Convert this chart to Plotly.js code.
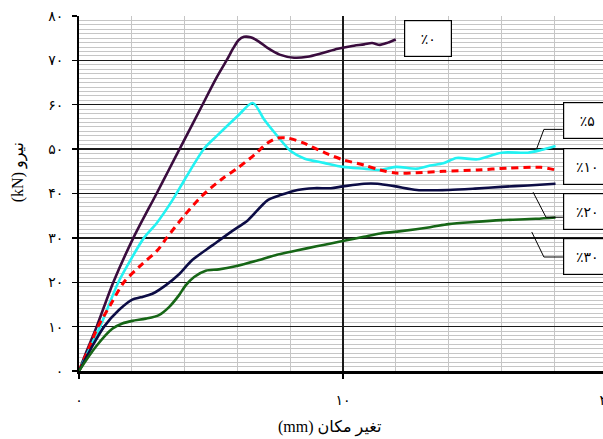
<!DOCTYPE html>
<html>
<head>
<meta charset="utf-8">
<script src="https://cdn.plot.ly/plotly-3.0.1.min.js"></script>
<style>
html,body{margin:0;padding:0;background:#fff;overflow:hidden;width:603px;height:439px;}
#chart{width:620px;height:439px;}
</style>
</head>
<body>
<div id="chart"></div>
<script>
// ---- data (displacement mm, force kN) ----
const seriesNames = ['٪۰', '٪۵', '٪۱۰', '٪۲۰', '٪۳۰'];

const x0 = [0, 0.3, 0.67, 1.3, 2.06, 2.94, 3.4, 4.0, 4.6, 5.2, 5.6, 5.85, 6.05, 6.25, 6.5, 6.8, 7.14, 7.6, 8.15, 8.65, 9.2, 9.8, 10.3, 10.8, 11.1, 11.4, 11.7, 12.0];
const y0 = [0, 4.6, 10, 20, 30, 40, 45.3, 52.2, 59.1, 66.0, 70.1, 72.8, 74.6, 75.3, 75.2, 74.3, 72.8, 71.3, 70.6, 70.8, 71.6, 72.6, 73.2, 73.6, 73.9, 73.5, 74.0, 74.7];

const x5 = [0, 0.4, 0.8, 1.49, 2.0, 2.46, 2.94, 3.54, 4.0, 4.75, 5.26, 6.0, 6.58, 7.02, 7.52, 8.03, 8.53, 9.28, 10.0, 10.8, 11.4, 12.0, 12.8, 13.3, 13.8, 14.3, 15.1, 16.0, 17.0, 17.5, 18.05];
const y5 = [0, 5.0, 10.0, 20.0, 25.5, 30.0, 33.3, 38.5, 43.1, 50.2, 53.2, 57.4, 60.4, 56.6, 52.9, 49.5, 47.9, 46.9, 46.0, 45.6, 45.3, 46.0, 45.6, 46.3, 46.8, 48.0, 47.7, 49.2, 49.2, 49.8, 50.7];

const x10 = [0, 0.35, 0.72, 1.2, 1.7, 2.34, 2.97, 3.32, 4.0, 4.63, 5.38, 6.0, 6.64, 7.14, 7.52, 7.9, 8.5, 9.3, 10.0, 10.8, 11.4, 12.0, 12.8, 13.8, 15.1, 16.2, 17.5, 18.05];
const y10 = [0, 4.8, 10.0, 15.0, 20.0, 23.8, 27.2, 30.0, 35.1, 39.3, 43.1, 45.7, 48.7, 51.4, 52.5, 52.5, 51.4, 49.2, 47.6, 46.4, 45.3, 44.6, 44.7, 45.0, 45.3, 45.7, 45.9, 45.3];

const x20 = [0, 0.45, 0.95, 1.52, 2.02, 2.34, 2.78, 3.28, 3.79, 4.29, 5.05, 5.77, 6.4, 7.15, 7.66, 8.28, 8.9, 9.54, 10.0, 10.8, 11.3, 12.0, 12.8, 14.0, 15.0, 16.0, 17.0, 18.05];
const y20 = [0, 5.0, 10.0, 13.8, 16.1, 16.6, 17.4, 19.3, 21.8, 25.0, 28.3, 31.4, 34.0, 38.5, 39.7, 40.8, 41.2, 41.2, 41.6, 42.2, 42.2, 41.6, 40.8, 40.8, 41.1, 41.5, 41.8, 42.2];

const x30 = [0, 0.63, 1.26, 1.64, 2.02, 2.53, 3.03, 3.41, 3.79, 4.04, 4.36, 4.8, 5.3, 5.93, 6.82, 7.5, 8.28, 9.0, 9.54, 10.04, 10.79, 11.42, 12.05, 13.3, 14.0, 15.0, 16.0, 17.3, 18.05];
const y30 = [0, 5.4, 9.5, 10.7, 11.3, 11.8, 12.6, 14.4, 17.1, 19.3, 21.2, 22.6, 22.9, 23.6, 25.0, 26.2, 27.2, 28.1, 28.75, 29.35, 30.25, 31.0, 31.4, 32.4, 33.1, 33.6, 34.0, 34.3, 34.6];

const xTickVals = [0, 10, 20];
const xTickText = ['۰', '۱۰', '۲۰'];
const yTickVals = [0, 10, 20, 30, 40, 50, 60, 70, 80];
const yTickText = ['۰', '۱۰', '۲۰', '۳۰', '۴۰', '۵۰', '۶۰', '۷۰', '۸۰'];

const xTitle = '\u202Bتغیر مکان (mm)\u202C';
const yTitle = '\u202Bنیرو (kN)\u202C';

// ---- styling ----
const xs = [x0, x5, x10, x20, x30];
const ys = [y0, y5, y10, y20, y30];
const colors = ['#3a0c3e', '#22f2f2', '#ff0000', '#0c0c45', '#166616'];
const dashes = ['solid', 'solid', '7px,5px', 'solid', 'solid'];

const traces = xs.map((x, i) => ({
  x: x, y: ys[i], name: seriesNames[i], type: 'scatter', mode: 'lines',
  line: {color: colors[i], width: i === 2 ? 3 : 2.6, dash: dashes[i], shape: 'spline', smoothing: 0.8},
  showlegend: false, hoverinfo: 'skip'
}));

const serif = "'Liberation Serif', 'Times New Roman', 'DejaVu Sans', serif";
const digitFont = {family: "'DejaVu Sans', sans-serif", size: 14, color: '#000'};

// callout boxes (label, x, y in data units)
const boxes = [
  [seriesNames[0], 13.22, 74.9],
  [seriesNames[1], 19.25, 56.4],
  [seriesNames[2], 19.25, 46.05],
  [seriesNames[3], 19.25, 35.9],
  [seriesNames[4], 19.25, 25.85]
];
const annotations = boxes.map(b => ({
  text: b[0], x: b[1], y: b[2], xref: 'x', yref: 'y', showarrow: false,
  xanchor: 'center', yanchor: 'middle', width: 46, height: 35, borderpad: 0,
  bordercolor: '#000', borderwidth: 1.2, bgcolor: '#fff', font: digitFont
}));
annotations.push({text: xTitle, xref: 'paper', yref: 'paper', x: 0.4735, y: -0.158,
  xanchor: 'center', yanchor: 'middle', showarrow: false,
  font: {family: serif, size: 16, color: '#000'}});
annotations.push({text: yTitle, xref: 'paper', yref: 'paper', x: -0.1155, y: 0.56,
  xanchor: 'center', yanchor: 'middle', showarrow: false, textangle: -90,
  font: {family: serif, size: 16, color: '#000'}});

const leader = (pts) => ({
  type: 'path', xref: 'x', yref: 'y',
  path: 'M' + pts.map(p => p[0] + ',' + p[1]).join(' L'),
  line: {color: '#000', width: 1}
});
const shapes = [
  leader([[18.32, 54.45], [17.61, 54.45], [17.34, 50.16]]),
  leader([[17.2, 40.3], [17.69, 34.65], [18.33, 34.65]]),
  leader([[17.15, 31.33], [17.61, 25.69], [18.33, 25.69]])
];

const layout = {
  width: 620, height: 439,
  margin: {l: 79, r: 13, t: 16, b: 68},
  paper_bgcolor: '#fff', plot_bgcolor: '#fff',
  xaxis: {
    range: [0, 20], tickmode: 'array', tickvals: xTickVals, ticktext: xTickText,
    showgrid: true, gridcolor: '#1a1a1a', gridwidth: 1.3, zeroline: false,
    showline: true, linecolor: '#000', linewidth: 2.5,
    ticks: 'outside', ticklen: 5, tickcolor: '#000', tickwidth: 1.5,
    ticklabelstandoff: 10, tickfont: digitFont,
    minor: {tickmode: 'linear', tick0: 0, dtick: 2, showgrid: true, gridcolor: '#c6c6c6', gridwidth: 1.2, ticks: ''}
  },
  yaxis: {
    range: [0, 80], tickmode: 'array', tickvals: yTickVals, ticktext: yTickText,
    showgrid: true, gridcolor: '#1a1a1a', gridwidth: 1.3, zeroline: false,
    showline: true, linecolor: '#000', linewidth: 2,
    ticks: 'outside', ticklen: 5, tickcolor: '#000', tickwidth: 1.3,
    ticklabelstandoff: 6, tickfont: digitFont,
    minor: {tickmode: 'linear', tick0: 0, dtick: 1, showgrid: true, gridcolor: '#c6c6c6', gridwidth: 1, ticks: ''}
  },
  annotations: annotations,
  shapes: shapes
};

Plotly.newPlot('chart', traces, layout, {staticPlot: true, displayModeBar: false});
</script>
</body>
</html>
